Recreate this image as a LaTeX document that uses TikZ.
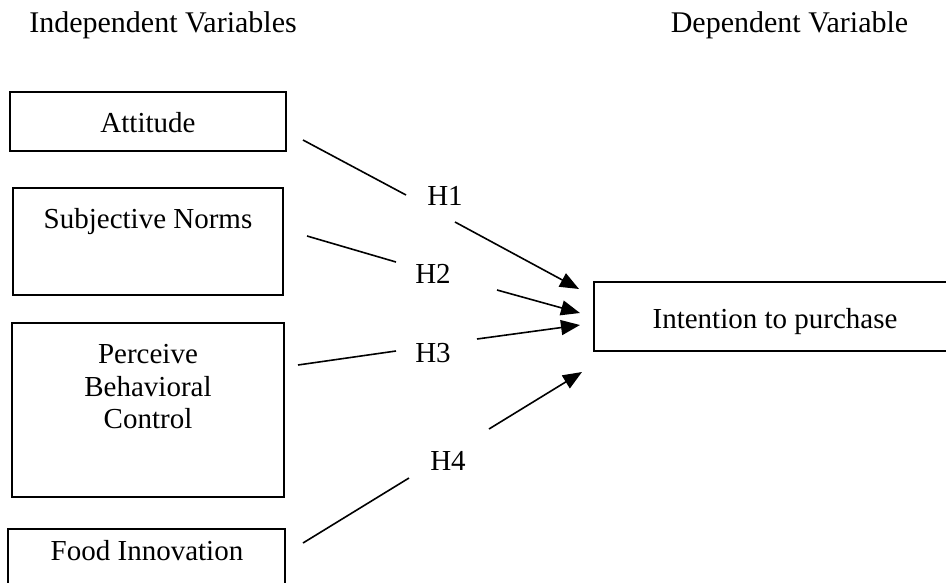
\documentclass[tikz,border=0pt]{standalone}
\usepackage{fontspec}
\setmainfont{Liberation Serif}
\usetikzlibrary{arrows.meta}
\begin{document}
\begin{tikzpicture}[x=1pt,y=-1pt,
  box/.style={draw,line width=1.7pt,inner sep=0pt,rectangle},
  txt/.style={anchor=base,inner sep=0pt,font=\fontsize{29}{32}\selectfont},
  head/.style={anchor=base,inner sep=0pt,font=\fontsize{30}{33}\selectfont},
  seg/.style={line width=1.6pt},
  arr/.style={line width=1.6pt,-{Triangle[length=19pt,width=15pt]}}]
\clip (0,0) rectangle (946,582);
\fill[white] (0,0) rectangle (946,582);
% header texts
\node[head] (hi) at (163,32.5) {Independent Variables};
\node[head] (hd) at (789.5,32.5) {Dependent Variable};
% boxes
\node[box,line width=2.6pt,minimum width=276pt,minimum height=59pt] (att) at (148,121.5) {};
\node[box,minimum width=270pt,minimum height=107pt] (sn) at (148,241.5) {};
\node[box,minimum width=272pt,minimum height=174pt] (pbc) at (148,410) {};
\node[box,minimum width=277pt,minimum height=82pt] (fi) at (146.5,570) {};
\node[box,minimum width=376pt,minimum height=69pt] (ip) at (782,316.5) {};
% box texts
\node[txt] (tatt) at (148,132) {Attitude};
\node[txt] (tsn) at (148,228) {Subjective Norms};
\node[txt] (tp1) at (148,363) {Perceive};
\node[txt] (tp2) at (148,396) {Behavioral};
\node[txt] (tp3) at (148,428) {Control};
\node[txt] (tfi) at (147,560) {Food Innovation};
\node[txt] (tip) at (775,328) {Intention to purchase};
% hypothesis labels
\node[txt] (h1) at (445,205) {H1};
\node[txt] (h2) at (433,283) {H2};
\node[txt] (h3) at (433,362) {H3};
\node[txt] (h4) at (448,470) {H4};
% connector endpoints
\coordinate (s1) at (303,140); \coordinate (m1) at (406,195);
\coordinate (n1) at (455,222); \coordinate (t1) at (579,289);
\coordinate (s2) at (307,236); \coordinate (m2) at (396,262);
\coordinate (n2) at (497,290); \coordinate (t2) at (580,313);
\coordinate (s3) at (298,365); \coordinate (m3) at (396,351);
\coordinate (n3) at (477,339); \coordinate (t3) at (580,325);
\coordinate (s4) at (303,543); \coordinate (m4) at (409,478);
\coordinate (n4) at (489,429); \coordinate (t4) at (582,372);
\draw[seg] (s1) -- (m1); \draw[arr] (n1) -- (t1);
\draw[seg] (s2) -- (m2); \draw[arr] (n2) -- (t2);
\draw[seg] (s3) -- (m3); \draw[arr] (n3) -- (t3);
\draw[seg] (s4) -- (m4); \draw[arr] (n4) -- (t4);
\end{tikzpicture}
\end{document}
